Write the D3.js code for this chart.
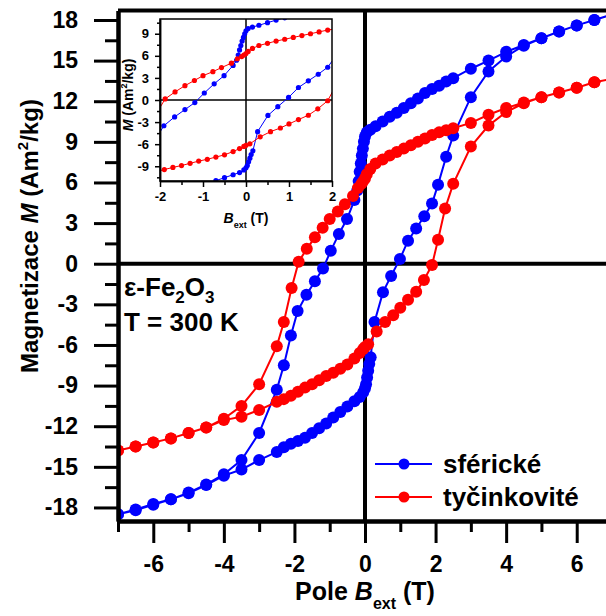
<!DOCTYPE html>
<html>
<head>
<meta charset="utf-8">
<script src="https://cdn.jsdelivr.net/npm/d3@7"></script>
<style>
  body { margin: 0; background: #fff; }
  svg { display: block; font-family: "Liberation Sans", Arial, sans-serif; font-weight: bold; }
</style>
</head>
<body>
<div id="chart"></div>
<script>
// hysteresis loops, [B (T), M (Am2/kg)]
const blueDown = [
  [7, 18.4], [6.5, 18.0], [6, 17.6], [5.5, 17.15], [5, 16.65], [4.5, 16.15], [4, 15.65],
  [3.5, 15.0], [3, 14.4], [2.5, 13.7], [2.3, 13.45], [2.1, 13.15], [1.9, 12.9], [1.7, 12.6],
  [1.5, 12.2], [1.3, 11.85], [1.1, 11.5], [0.9, 11.15], [0.7, 10.85], [0.5, 10.5], [0.3, 10.15],
  [0.15, 9.9], [0.05, 9.7], [0, 9.4], [-0.03, 9.0], [-0.06, 8.5], [-0.09, 8.0], [-0.12, 7.4],
  [-0.15, 6.8], [-0.18, 6.1], [-0.22, 5.4], [-0.3, 4.7], [-0.51, 3.3], [-0.74, 2.2], [-0.97, 0.95],
  [-1.19, -0.35], [-1.42, -1.3], [-1.66, -2.3], [-1.91, -3.5], [-2.1, -5.3], [-2.3, -7.5],
  [-2.5, -9.3], [-3, -12.5], [-3.5, -14.5], [-4, -15.55], [-4.5, -16.3], [-5, -16.9],
  [-5.5, -17.4], [-6, -17.75], [-6.5, -18.15], [-7, -18.5]
];
const blueUp = [
  [-7, -18.5], [-6.5, -18.2], [-6, -17.8], [-5.5, -17.4], [-5, -16.95], [-4.5, -16.35],
  [-4, -15.65], [-3.5, -15.2], [-3, -14.5], [-2.5, -13.9], [-2.3, -13.55], [-2.1, -13.3],
  [-1.9, -13.1], [-1.7, -12.85], [-1.5, -12.5], [-1.3, -12.15], [-1.1, -11.8], [-0.9, -11.35],
  [-0.7, -10.95], [-0.5, -10.55], [-0.3, -10.15], [-0.15, -9.85], [-0.05, -9.5], [0, -9.2],
  [0.03, -8.9], [0.06, -8.4], [0.09, -7.9], [0.12, -7.4], [0.16, -6.9], [0.27, -4.3],
  [0.51, -2.1], [0.74, -0.9], [0.99, 0.35], [1.22, 1.7], [1.45, 2.6], [1.68, 3.5], [1.9, 4.45],
  [2.07, 5.84], [2.3, 7.9], [2.5, 9.46], [3, 12.3], [3.5, 14.2], [4, 15.3], [4.5, 16.1],
  [5, 16.65], [5.5, 17.15], [6, 17.6], [6.5, 18.0], [7, 18.4]
];
const redDown = [
  [7, 13.65], [6.5, 13.4], [6, 13.0], [5.5, 12.65], [5, 12.3], [4.5, 11.9], [4, 11.5],
  [3.5, 11.0], [3, 10.4], [2.5, 10.0], [2.3, 9.85], [2.1, 9.7], [1.9, 9.5], [1.7, 9.25],
  [1.5, 9.0], [1.3, 8.75], [1.1, 8.5], [0.9, 8.25], [0.7, 8.0], [0.5, 7.7], [0.3, 7.4],
  [0.15, 7.0], [0.05, 6.6], [0, 6.3], [-0.05, 6.1], [-0.1, 5.9], [-0.2, 5.6], [-0.34, 5.0],
  [-0.57, 4.4], [-0.77, 3.85], [-1, 3.3], [-1.2, 2.65], [-1.42, 1.95], [-1.65, 1.1],
  [-1.88, 0.15], [-2.08, -1.8], [-2.3, -4.3], [-2.5, -6.1], [-3, -8.9], [-3.5, -10.5],
  [-4, -11.45], [-4.5, -12.1], [-5, -12.5], [-5.5, -12.9], [-6, -13.2], [-6.5, -13.5], [-7, -13.8]
];
const redUp = [
  [-7, -13.8], [-6.5, -13.5], [-6, -13.2], [-5.5, -12.9], [-5, -12.5], [-4.5, -12.1],
  [-4, -11.55], [-3.5, -11.3], [-3, -10.8], [-2.5, -10.2], [-2.3, -10.0], [-2.1, -9.75],
  [-1.9, -9.45], [-1.7, -9.15], [-1.5, -8.9], [-1.3, -8.6], [-1.1, -8.3], [-0.9, -8.05],
  [-0.7, -7.75], [-0.5, -7.45], [-0.3, -7.0], [-0.15, -6.6], [-0.05, -6.3], [0, -6.15],
  [0.09, -5.95], [0.33, -5.0], [0.57, -4.3], [0.8, -3.8], [1, -3.25], [1.22, -2.66],
  [1.45, -2.07], [1.67, -1.2], [1.9, -0.1], [2.07, 1.77], [2.27, 4.07], [2.5, 5.9], [3, 8.65],
  [3.5, 10.2], [4, 11.2], [4.5, 11.85], [5, 12.3], [5.5, 12.65], [6, 13.0], [6.5, 13.4], [7, 13.65]
];

const seriesNames = ["sférické", "tyčinkovité"];
const seriesColors = ["#0000ff", "#ff0000"];
const loops = [blueDown.concat(blueUp), redDown.concat(redUp)];

const xTicks = [-6, -4, -2, 0, 2, 4, 6];
const xMinor = [-7, -5, -3, -1, 1, 3, 5, 7];
const yTicks = [-18, -15, -12, -9, -6, -3, 0, 3, 6, 9, 12, 15, 18];
const yMinor = [-16.5, -13.5, -10.5, -7.5, -4.5, -1.5, 1.5, 4.5, 7.5, 10.5, 13.5, 16.5];
const insetXTicks = [-2, -1, 0, 1, 2];
const insetXMinor = [-1.5, -0.5, 0.5, 1.5];
const insetYTicks = [-9, -6, -3, 0, 3, 6, 9];
const insetYMinor = [-10.5, -7.5, -4.5, -1.5, 1.5, 4.5, 7.5, 10.5];

const width = 606;
const height = 616;
const plot = { left: 118, right: 612, top: 10.5, bottom: 521 };
const box = { left: 160, right: 332, top: 19, bottom: 181 };

const x = d3.scaleLinear().domain([-7, 7]).range([plot.left, plot.right]);
const y = d3.scaleLinear().domain([-19, 18.7]).range([plot.bottom, plot.top]);
const xi = d3.scaleLinear().domain([-2, 2]).range([box.left, box.right]);
const yi = d3.scaleLinear().domain([-11, 11]).range([box.bottom, box.top]);

const svg = d3
  .select("#chart")
  .append("svg")
  .attr("width", width)
  .attr("height", height);

const defs = svg.append("defs");
defs.append("clipPath").attr("id", "clip-main")
  .append("rect")
  .attr("x", plot.left).attr("y", plot.top)
  .attr("width", plot.right - plot.left).attr("height", plot.bottom - plot.top);
defs.append("clipPath").attr("id", "clip-inset")
  .append("rect")
  .attr("x", box.left).attr("y", box.top)
  .attr("width", box.right - box.left).attr("height", box.bottom - box.top);

// zero lines of the main plot
svg.append("line")
  .attr("x1", x(0)).attr("x2", x(0))
  .attr("y1", plot.top).attr("y2", plot.bottom)
  .attr("stroke", "#000").attr("stroke-width", 4);
svg.append("line")
  .attr("x1", plot.left).attr("x2", width)
  .attr("y1", y(0)).attr("y2", y(0))
  .attr("stroke", "#000").attr("stroke-width", 4);

const drawLoops = (g, xs, ys, r, lw) => {
  const line = d3.line().x((d) => xs(d[0])).y((d) => ys(d[1]));
  loops.forEach((pts, i) => {
    g.append("path")
      .attr("d", line(pts))
      .attr("fill", "none")
      .attr("stroke", seriesColors[i])
      .attr("stroke-width", lw);
    g.selectAll(null)
      .data(pts)
      .join("circle")
      .attr("cx", (d) => xs(d[0]))
      .attr("cy", (d) => ys(d[1]))
      .attr("r", r)
      .attr("fill", seriesColors[i]);
  });
};

drawLoops(svg.append("g").attr("clip-path", "url(#clip-main)"), x, y, 6, 2);

// main frame and axes
const styleAxis = (g, domainW, tickW, size) => {
  g.select(".domain").attr("stroke-width", domainW);
  g.selectAll(".tick line").attr("stroke-width", tickW);
  g.selectAll(".tick text")
    .attr("font-size", size)
    .attr("font-family", "Liberation Sans, Arial, sans-serif")
    .attr("font-weight", "bold")
    .attr("fill", "#000");
};

svg.append("line")
  .attr("x1", plot.left).attr("x2", width)
  .attr("y1", plot.top).attr("y2", plot.top)
  .attr("stroke", "#000").attr("stroke-width", 4);

svg.append("g")
  .attr("transform", `translate(0, ${plot.bottom})`)
  .call(d3.axisBottom(x).tickValues(xMinor).tickSize(11).tickFormat("").tickSizeOuter(0))
  .call((g) => styleAxis(g, 4, 3, 23));
svg.append("g")
  .attr("transform", `translate(0, ${plot.bottom})`)
  .call(d3.axisBottom(x).tickValues(xTicks).tickSize(22).tickPadding(13).tickFormat((d) => d).tickSizeOuter(0))
  .call((g) => styleAxis(g, 4, 3, 23));

svg.append("g")
  .attr("transform", `translate(${plot.left}, 0)`)
  .call(d3.axisLeft(y).tickValues(yMinor).tickSize(13).tickFormat("").tickSizeOuter(0))
  .call((g) => styleAxis(g, 4, 3, 23));
svg.append("g")
  .attr("transform", `translate(${plot.left}, 0)`)
  .call(d3.axisLeft(y).tickValues(yTicks).tickSize(24).tickPadding(16).tickFormat((d) => d).tickSizeOuter(0))
  .call((g) => styleAxis(g, 4, 3, 23));

// axis titles
const yTitle = svg.append("text")
  .attr("transform", `translate(38, 236) rotate(-90)`)
  .attr("text-anchor", "middle")
  .attr("font-size", 24);
yTitle.append("tspan").text("Magnetizace ");
yTitle.append("tspan").attr("font-style", "italic").text("M");
yTitle.append("tspan").text(" (Am");
yTitle.append("tspan").attr("font-size", 15).attr("dy", -10).text("2");
yTitle.append("tspan").attr("dy", 10).text("/kg)");

const xTitle = svg.append("text")
  .attr("x", x(0)).attr("y", 600)
  .attr("text-anchor", "middle")
  .attr("font-size", 25);
xTitle.append("tspan").text("Pole ");
xTitle.append("tspan").attr("font-style", "italic").text("B");
xTitle.append("tspan").attr("font-size", 16).attr("dy", 9).text("ext");
xTitle.append("tspan").attr("dy", -9).text(" (T)");

// sample label
const sample = svg.append("text").attr("x", 124).attr("y", 296).attr("font-size", 26);
sample.append("tspan").text("ε-Fe");
sample.append("tspan").attr("font-size", 17).attr("dy", 7).text("2");
sample.append("tspan").attr("dy", -7).text("O");
sample.append("tspan").attr("font-size", 17).attr("dy", 7).text("3");
svg.append("text").attr("x", 124).attr("y", 331).attr("font-size", 26).text("T = 300 K");

// legend
const legend = svg.append("g");
seriesNames.forEach((name, i) => {
  const ly = 464 + i * 33;
  legend.append("line")
    .attr("x1", 375).attr("x2", 432).attr("y1", ly).attr("y2", ly)
    .attr("stroke", seriesColors[i]).attr("stroke-width", 2);
  legend.append("circle")
    .attr("cx", 404).attr("cy", ly).attr("r", 5.5)
    .attr("fill", seriesColors[i]);
  legend.append("text")
    .attr("x", 443).attr("y", ly + 9)
    .attr("font-size", 26)
    .text(name);
});

// inset
const inset = svg.append("g");
inset.append("rect")
  .attr("x", box.left).attr("y", box.top)
  .attr("width", box.right - box.left).attr("height", box.bottom - box.top)
  .attr("fill", "#fff");
inset.append("line")
  .attr("x1", xi(0)).attr("x2", xi(0)).attr("y1", box.top).attr("y2", box.bottom)
  .attr("stroke", "#000").attr("stroke-width", 1.5);
inset.append("line")
  .attr("x1", box.left).attr("x2", box.right).attr("y1", yi(0)).attr("y2", yi(0))
  .attr("stroke", "#000").attr("stroke-width", 1.5);
drawLoops(inset.append("g").attr("clip-path", "url(#clip-inset)"), xi, yi, 2.6, 1);
inset.append("rect")
  .attr("x", box.left).attr("y", box.top)
  .attr("width", box.right - box.left).attr("height", box.bottom - box.top)
  .attr("fill", "none").attr("stroke", "#000").attr("stroke-width", 1.5);

inset.append("g")
  .attr("transform", `translate(0, ${box.bottom})`)
  .call(d3.axisBottom(xi).tickValues(insetXMinor).tickSize(4).tickFormat("").tickSizeOuter(0))
  .call((g) => styleAxis(g, 1.5, 1.5, 13));
inset.append("g")
  .attr("transform", `translate(0, ${box.bottom})`)
  .call(d3.axisBottom(xi).tickValues(insetXTicks).tickSize(6).tickPadding(5).tickFormat((d) => d).tickSizeOuter(0))
  .call((g) => styleAxis(g, 1.5, 1.5, 13));
inset.append("g")
  .attr("transform", `translate(${box.left}, 0)`)
  .call(d3.axisLeft(yi).tickValues(insetYMinor).tickSize(3).tickFormat("").tickSizeOuter(0))
  .call((g) => styleAxis(g, 1.5, 1.5, 13));
inset.append("g")
  .attr("transform", `translate(${box.left}, 0)`)
  .call(d3.axisLeft(yi).tickValues(insetYTicks).tickSize(5).tickPadding(6).tickFormat((d) => d).tickSizeOuter(0))
  .call((g) => styleAxis(g, 1.5, 1.5, 13));

const iyTitle = inset.append("text")
  .attr("transform", `translate(133, ${yi(0) - 5}) rotate(-90)`)
  .attr("text-anchor", "middle")
  .attr("font-size", 14);
iyTitle.append("tspan").attr("font-style", "italic").text("M");
iyTitle.append("tspan").text(" (Am");
iyTitle.append("tspan").attr("font-size", 9).attr("dy", -6).text("2");
iyTitle.append("tspan").attr("dy", 6).text("/kg)");

const ixTitle = inset.append("text")
  .attr("x", xi(0)).attr("y", 223)
  .attr("text-anchor", "middle")
  .attr("font-size", 14);
ixTitle.append("tspan").attr("font-style", "italic").text("B");
ixTitle.append("tspan").attr("font-size", 9).attr("dy", 5).text("ext");
ixTitle.append("tspan").attr("dy", -5).text(" (T)");
</script>
</body>
</html>
